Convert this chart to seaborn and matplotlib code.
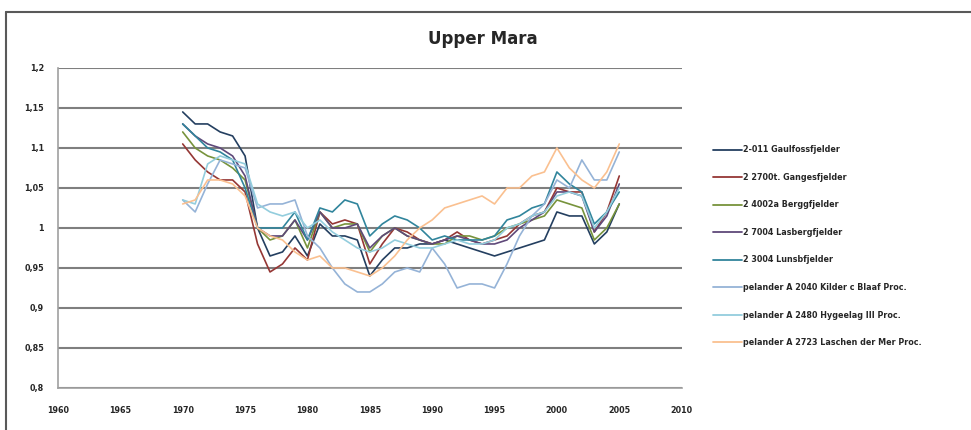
import pandas as pd
import matplotlib.pyplot as plt
import seaborn as sns
from matplotlib.lines import Line2D

# años de la serie
years = list(range(1970, 2006))

# valores
s1 = [1.145, 1.13, 1.13, 1.12, 1.115, 1.09, 1.0, 0.965, 0.97, 0.99, 0.965, 1.005, 0.99, 0.99, 0.985, 0.94, 0.96, 0.975, 0.975, 0.98,
      0.98, 0.985, 0.98, 0.975, 0.97, 0.965, 0.97, 0.975, 0.98, 0.985, 1.02, 1.015, 1.015, 0.98, 0.995, 1.03]
s2 = [1.105, 1.085, 1.07, 1.06, 1.06, 1.045, 0.98, 0.945, 0.955, 0.975, 0.96, 1.02, 1.005, 1.01, 1.005, 0.955, 0.98, 1.0, 0.995, 0.985,
      0.98, 0.985, 0.995, 0.985, 0.98, 0.985, 0.99, 1.005, 1.015, 1.02, 1.05, 1.045, 1.045, 0.995, 1.02, 1.065]
s3 = [1.12, 1.1, 1.09, 1.085, 1.075, 1.06, 1.0, 0.985, 0.99, 1.01, 0.975, 1.02, 1.0, 1.005, 1.005, 0.97, 0.99, 1.0, 0.99, 0.985,
      0.98, 0.98, 0.99, 0.99, 0.985, 0.99, 1.0, 1.005, 1.01, 1.015, 1.035, 1.03, 1.025, 0.985, 1.0, 1.03]
s4 = [1.13, 1.115, 1.105, 1.1, 1.09, 1.065, 1.0, 0.99, 0.99, 1.01, 0.985, 1.02, 1.0, 1.0, 1.005, 0.975, 0.99, 1.0, 0.99, 0.985,
      0.98, 0.985, 0.99, 0.985, 0.98, 0.98, 0.985, 1.0, 1.01, 1.02, 1.045, 1.045, 1.04, 0.995, 1.015, 1.055]
s5 = [1.13, 1.115, 1.1, 1.095, 1.085, 1.05, 1.0, 1.0, 1.0, 1.02, 0.985, 1.025, 1.02, 1.035, 1.03, 0.99, 1.005, 1.015, 1.01, 1.0,
      0.985, 0.99, 0.985, 0.985, 0.985, 0.99, 1.01, 1.015, 1.025, 1.03, 1.07, 1.055, 1.045, 1.005, 1.02, 1.045]
s6 = [1.035, 1.02, 1.055, 1.085, 1.08, 1.075, 1.025, 1.03, 1.03, 1.035, 0.99, 0.975, 0.95, 0.93, 0.92, 0.92, 0.93, 0.945, 0.95, 0.945,
      0.975, 0.955, 0.925, 0.93, 0.93, 0.925, 0.955, 0.99, 1.015, 1.03, 1.06, 1.05, 1.085, 1.06, 1.06, 1.095]
s7 = [1.035, 1.03, 1.08, 1.09, 1.085, 1.08, 1.03, 1.02, 1.015, 1.02, 1.0, 1.01, 0.995, 0.985, 0.975, 0.97, 0.975, 0.985, 0.98, 0.975,
      0.975, 0.98, 0.985, 0.98, 0.98, 0.985, 1.0, 1.005, 1.015, 1.02, 1.04, 1.045, 1.04, 1.0, 1.02, 1.05]
s8 = [1.03, 1.035, 1.06, 1.06, 1.055, 1.04, 1.0, 0.99, 0.985, 0.97, 0.96, 0.965, 0.95, 0.95, 0.945, 0.94, 0.95, 0.965, 0.985, 1.0,
      1.01, 1.025, 1.03, 1.035, 1.04, 1.03, 1.05, 1.05, 1.065, 1.07, 1.1, 1.075, 1.06, 1.05, 1.07, 1.105]

labels = ['2-011 Gaulfossfjelder', '2 2700t. Gangesfjelder', '2 4002a Berggfjelder', '2 7004 Lasbergfjelder',
          '2 3004 Lunsbfjelder', 'pelander A 2040 Kilder c Blaaf Proc.', 'pelander A 2480 Hygeelag III Proc.',
          'pelander A 2723 Laschen der Mer Proc.']
colores = ['#243F60', '#953735', '#77933C', '#5F497A', '#31859C', '#95B3D7', '#93CDDD', '#FAC090']

yticks = [0.8, 0.85, 0.9, 0.95, 1.0, 1.05, 1.1, 1.15, 1.2]
ytick_labels = ['0,8', '0,85', '0,9', '0,95', '1', '1,05', '1,1', '1,15', '1,2']
xticks = list(range(1960, 2011, 5))

series = [s1, s2, s3, s4, s5, s6, s7, s8]
df = pd.concat([pd.DataFrame({'year': years, 'value': s, 'serie': lab}) for s, lab in zip(series, labels)])

sns.set_style('white')
plt.rcParams['font.family'] = ['DejaVu Sans']

fig = plt.figure(figsize=(9.71, 4.30), dpi=100)
ax = fig.add_axes([0.0597, 0.0977, 0.6423, 0.7443])

sns.lineplot(data=df, x='year', y='value', hue='serie', palette=colores, linewidth=1.2, ax=ax, legend=False)

ax.set_xlim(1960, 2010)
ax.set_ylim(0.8, 1.2)
ax.set_xticks(xticks)
ax.set_xticklabels([str(x) for x in xticks], fontsize=5.8, fontweight='bold')
ax.set_yticks(yticks)
ax.set_yticklabels(ytick_labels, fontsize=5.8, fontweight='bold')
ax.set_xlabel('')
ax.set_ylabel('')
ax.grid(axis='y', color='#7F7F7F', linewidth=1.5)
ax.grid(axis='x', visible=False)
ax.set_axisbelow(True)
for sp in ['top', 'right']:
    ax.spines[sp].set_visible(False)
for sp in ['left', 'bottom']:
    ax.spines[sp].set_color('#A0A0A0')
    ax.spines[sp].set_linewidth(1.2)
ax.tick_params(axis='both', length=4, width=1, color='#A0A0A0', direction='out', pad=6)
ax.tick_params(axis='x', pad=9)

fig.text(0.497, 0.91, 'Upper Mara', ha='center', va='center', fontsize=12, fontweight='bold')

handles = [Line2D([0], [0], color=c, linewidth=1.3) for c in colores]
fig.legend(handles, labels, loc='upper left', bbox_to_anchor=(0.734, 0.662), frameon=False,
           prop={'size': 5.8, 'weight': 'bold'}, labelspacing=2.3, handlelength=3.6,
           handletextpad=0.1, borderpad=0, borderaxespad=0)

# marco del grafico
fig.add_artist(Line2D([0.006, 0.006], [0.0, 0.972], color='#595959', linewidth=1.5, transform=fig.transFigure))
fig.add_artist(Line2D([0.006, 1.0], [0.972, 0.972], color='#595959', linewidth=1.5, transform=fig.transFigure))

plt.savefig('out.png', dpi=100)
